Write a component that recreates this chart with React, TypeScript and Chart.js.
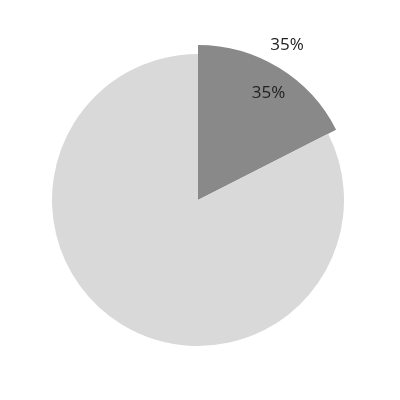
import React, { useEffect, useRef } from "react";
import { Chart, registerables } from "chart.js";

Chart.register(...registerables);

const categories = ["A", "B"];
const values = [35, 165];
const colors = ["#898989", "#d9d9d9"];
const insideLabels = ["35%", ""];
const outsideLabels = ["35%", ""];
const radiusBoost = [9, 0];

const bigSlicePlugin = {
  id: "bigSlice",
  afterDatasetsUpdate(chart: any) {
    const meta = chart.getDatasetMeta(0);
    meta.data.forEach((el: any, i: number) => {
      el.outerRadius = el.outerRadius + radiusBoost[i];
    });
  },
};

const labelPlugin = {
  id: "sliceLabels",
  afterDatasetsDraw(chart: any) {
    const ctx = chart.ctx;
    const meta = chart.getDatasetMeta(0);
    ctx.save();
    ctx.font = '17px "Open Sans"';
    ctx.fillStyle = "#222222";
    ctx.textAlign = "center";
    ctx.textBaseline = "middle";
    meta.data.forEach((el: any, i: number) => {
      const mid = (el.startAngle + el.endAngle) / 2;
      const r = el.outerRadius;
      if (insideLabels[i]) {
        const a = mid + 0.035;
        ctx.fillText(insideLabels[i], el.x + Math.cos(a) * r * 0.825, el.y + Math.sin(a) * r * 0.825);
      }
      if (outsideLabels[i]) {
        const a = mid - 0.028;
        ctx.fillText(outsideLabels[i], el.x + Math.cos(a) * r * 1.153, el.y + Math.sin(a) * r * 1.153);
      }
    });
    ctx.restore();
  },
};

export default function App() {
  const ref = useRef<HTMLCanvasElement>(null);
  useEffect(() => {
    const chart = new Chart(ref.current!, {
      type: "pie",
      data: {
        labels: categories,
        datasets: [
          {
            data: values,
            backgroundColor: colors,
            borderWidth: 0,
          },
        ],
      },
      options: {
        responsive: false,
        animation: false,
        layout: { padding: { left: 52, right: 56, top: 54, bottom: 54 } },
        plugins: { legend: { display: false }, tooltip: { enabled: false } },
      },
      plugins: [bigSlicePlugin, labelPlugin],
    });
    return () => chart.destroy();
  }, []);
  return (
    <div style={{ position: "absolute", left: 0, top: 0, width: 400, height: 400, background: "#fff" }}>
      <canvas ref={ref} width={400} height={400} />
    </div>
  );
}
